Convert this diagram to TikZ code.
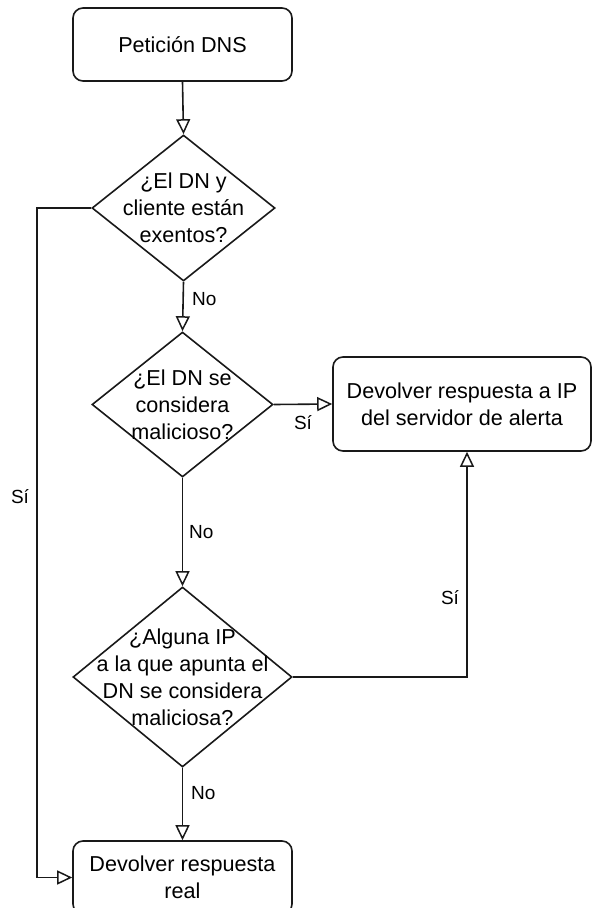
\documentclass[tikz,border=0pt]{standalone}
\usepackage{fontspec}
\setmainfont{Liberation Sans}
\usetikzlibrary{arrows.meta,shapes.geometric}

\tikzset{
  x=1pt, y=-1pt,
  line/.style={line width=1.6pt, draw=black!90},
  flow/.style={line, -{Triangle[open,length=15pt,width=14pt,line width=1.5pt]}},
  stepbox/.style={line, rectangle, rounded corners=10pt, fill=white,
    align=center, font=\fontsize{21.6}{27}\selectfont, inner sep=0pt},
  decision/.style={line, diamond, inner sep=0pt, fill=white},
  dtext/.style={align=center, font=\fontsize{21.6}{27}\selectfont, inner sep=0pt},
  lab/.style={font=\fontsize{19}{22}\selectfont, inner sep=0pt},
}

\begin{document}
\begin{tikzpicture}
  \useasboundingbox (0,0) rectangle (592,908);
  \clip (0,0) rectangle (592,908);

  % process boxes
  \node[stepbox, minimum width=219pt, minimum height=73pt] (start) at (182.5,44.5) {Petición DNS};
  \node[stepbox, minimum width=258pt, minimum height=94pt] (alert) at (462,404) {Devolver respuesta a IP\\del servidor de alerta};
  \node[stepbox, minimum width=219pt, minimum height=73pt] (real) at (182.5,877.5) {Devolver respuesta\\real};

  % decisions
  \node[decision, minimum width=183pt, minimum height=146pt] (d1) at (183.5,208) {};
  \node[dtext] (d1t) at (d1.center) {¿El DN y\\cliente están\\exentos?};
  \node[decision, minimum width=181pt, minimum height=145pt] (d2) at (182.5,404.5) {};
  \node[dtext] (d2t) at (d2.center) {¿El DN se\\considera\\malicioso?};
  \node[decision, minimum width=219pt, minimum height=180pt] (d3) at (182.5,677) {};
  \node[dtext] (d3t) at (d3.center) {¿Alguna IP\\a la que apunta el\\DN se considera\\maliciosa?};

  % bend points
  \coordinate (lc) at (37,208);
  \coordinate (rc) at (467,677);

  % connectors
  \draw[flow] (start.south) -- (d1.north);
  \draw[flow] (d1.south) -- (d2.north);
  \draw[flow] (d2.south) -- (d3.north);
  \draw[flow] (d3.south) -- (real.north);
  \draw[flow] (d2.east) -- (alert.west);
  \draw[flow] (d1.west) -- (lc) |- (real.west);
  \draw[flow] (d3.east) -- (rc) -- (rc |- alert.south);

  % branch labels
  \node[lab, anchor=west] (n1) at (192,299) {No};
  \node[lab, anchor=west] (n2) at (189,532) {No};
  \node[lab, anchor=west] (n3) at (191,793) {No};
  \node[lab] (s1) at (303,423) {Sí};
  \node[lab] (s2) at (450,598) {Sí};
  \node[lab] (s3) at (20,497) {Sí};
\end{tikzpicture}
\end{document}
